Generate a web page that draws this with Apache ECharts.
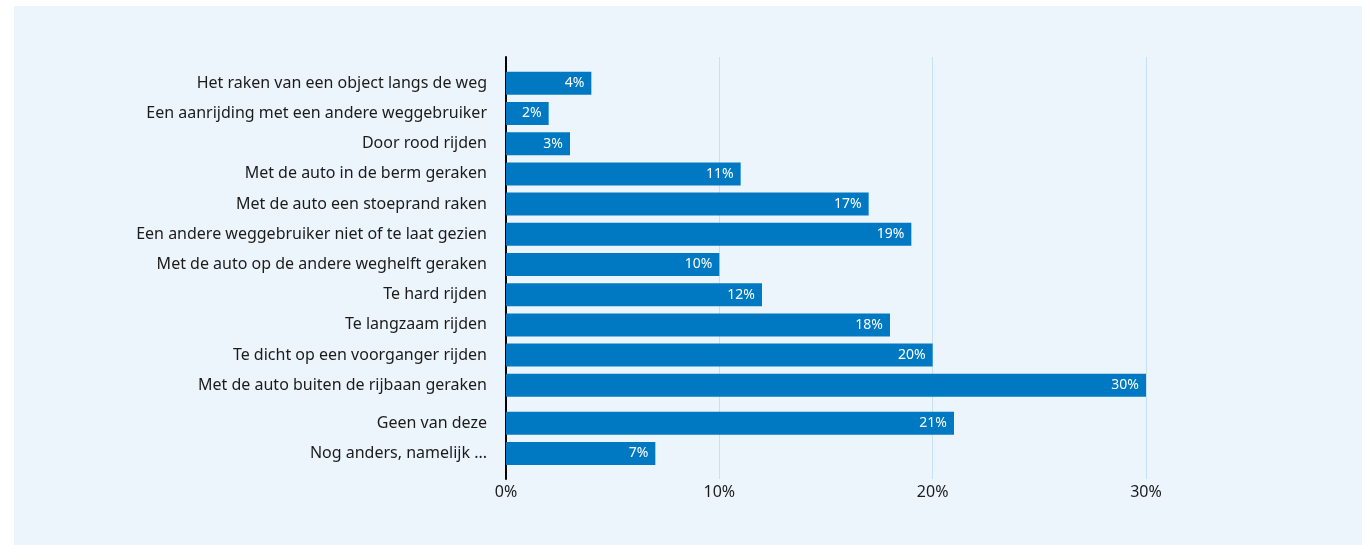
<!DOCTYPE html>
<html>
<head>
<meta charset="utf-8">
<script src="https://cdn.jsdelivr.net/npm/echarts@6/dist/echarts.min.js"></script>
<style>
html,body{margin:0;padding:0;background:#fff;}
#wrap{position:relative;width:1362px;height:545px;}
#bg{position:absolute;left:14px;top:6px;right:0;bottom:0;background:#edf5fc;}
#chart{position:absolute;left:0;top:0;width:1362px;height:545px;}
</style>
</head>
<body>
<div id="wrap"><div id="bg"></div><div id="chart"></div></div>
<script>
// Main group of answers
const categoriesMain = [
  'Het raken van een object langs de weg',
  'Een aanrijding met een andere weggebruiker',
  'Door rood rijden',
  'Met de auto in de berm geraken',
  'Met de auto een stoeprand raken',
  'Een andere weggebruiker niet of te laat gezien',
  'Met de auto op de andere weghelft geraken',
  'Te hard rijden',
  'Te langzaam rijden',
  'Te dicht op een voorganger rijden',
  'Met de auto buiten de rijbaan geraken'
];
const valuesMain = [4, 2, 3, 11, 17, 19, 10, 12, 18, 20, 30];
// Separate group at the bottom
const categoriesOther = ['Geen van deze', 'Nog anders, namelijk ...'];
const valuesOther = [21, 7];
// Axis ticks
const xMin = 0, xMax = 30, xInterval = 10;

const FONT = 'Noto Sans';
const BAR = '#0079c2';
const LEFT = 506, RIGHT = 1362 - 1146;

const catAxis = (gi, data) => ({
  type: 'category', gridIndex: gi, data: data, inverse: true,
  axisLine: {show: false}, axisTick: {show: false}, splitLine: {show: false},
  axisLabel: {margin: 19, fontFamily: FONT, fontSize: 16, color: '#1b1b1b'}
});
const hiddenX = gi => ({
  type: 'value', gridIndex: gi, min: xMin, max: xMax, interval: xInterval, show: false
});
const barSeries = (gi, data) => ({
  type: 'bar', xAxisIndex: gi, yAxisIndex: gi, data: data, barWidth: 23,
  itemStyle: {color: BAR},
  label: {show: true, position: 'insideRight', distance: 7, formatter: '{c}%',
          color: '#ffffff', fontFamily: FONT, fontSize: 14}
});

const chart = echarts.init(document.getElementById('chart'), null, {renderer: 'canvas'});
chart.setOption({
  backgroundColor: 'transparent',
  animation: false,
  grid: [
    {left: LEFT, right: RIGHT, top: 57, height: 422},
    {left: LEFT, right: RIGHT, top: 68.2, height: 332.2},
    {left: LEFT, right: RIGHT, top: 408.2, height: 60.4}
  ],
  xAxis: [
    {type: 'value', gridIndex: 0, min: xMin, max: xMax, interval: xInterval,
     axisLine: {show: false}, axisTick: {show: false},
     splitLine: {show: true, lineStyle: {color: '#c6e2f2', width: 1}},
     axisLabel: {formatter: '{value}%', margin: 5, fontFamily: FONT, fontSize: 16, color: '#1b1b1b'}},
    hiddenX(1), hiddenX(2)
  ],
  yAxis: [
    {type: 'value', gridIndex: 0, min: 0, max: 1,
     axisLine: {show: true, lineStyle: {color: '#000', width: 2}},
     axisTick: {show: false}, axisLabel: {show: false}, splitLine: {show: false}},
    catAxis(1, categoriesMain),
    catAxis(2, categoriesOther)
  ],
  series: [
    barSeries(1, valuesMain),
    barSeries(2, valuesOther)
  ]
});
</script>
</body>
</html>
